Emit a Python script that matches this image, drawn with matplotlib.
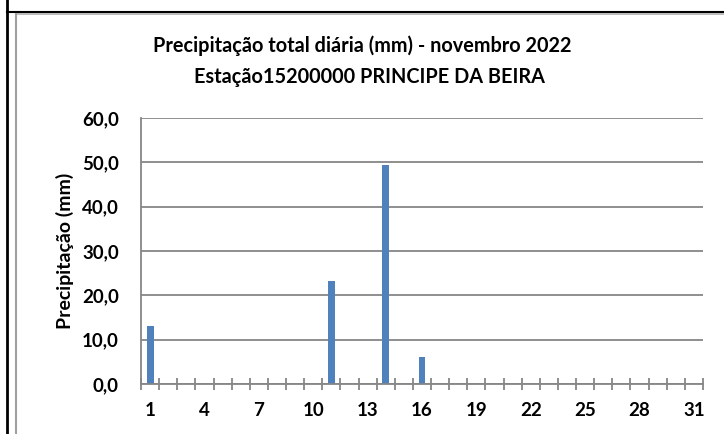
import matplotlib
matplotlib.use('Agg')
import matplotlib.pyplot as plt
import numpy as np
from matplotlib.lines import Line2D

# daily precipitation, november 2022 (mm)
days = list(range(1, 32))
precip = [13.0, 0, 0, 0, 0, 0, 0, 0, 0, 0, 23.2, 0, 0, 49.4, 0, 6.2,
          0, 0, 0, 0, 0, 0, 0, 0, 0, 0, 0, 0, 0, 0, 0]
yticks = [0, 10, 20, 30, 40, 50, 60]
xlabels_shown = [1, 4, 7, 10, 13, 16, 19, 22, 25, 28, 31]

plt.rcParams['font.family'] = ['Lato', 'DejaVu Sans']
plt.rcParams['font.weight'] = 'bold'

W, H = 724, 434
fig = plt.figure(figsize=(W / 100, H / 100), dpi=100)
ax = fig.add_axes([141 / W, 1 - 384 / H, (703 - 141) / W, (384 - 118) / H])

grey = '#868686'
x = np.arange(len(days))
ax.bar(x, precip, width=0.38, color='#4F81BD', zorder=3)

ax.set_xlim(-0.5, len(days) - 0.5)
ax.set_ylim(0, 60)
ax.set_yticks(yticks)
ax.set_yticklabels([f'{v:.1f}'.replace('.', ',') for v in yticks], fontsize=13.5, fontweight='bold')
ax.yaxis.grid(True, color=grey, lw=1.3, zorder=0)
ax.tick_params(axis='y', length=0, pad=16)

# category labels every 3 days, cross ticks at category boundaries
ax.set_xticks([d - 1 for d in xlabels_shown])
ax.set_xticklabels([str(d) for d in xlabels_shown], fontsize=13.5, fontweight='bold')
ax.tick_params(axis='x', which='major', length=0, pad=13)
ax.set_xticks(np.arange(-0.5, len(days) + 0.5, 1), minor=True)
ax.xaxis.set_tick_params(which='minor', direction='inout', length=8, width=1.3, color=grey)

for s in ['top', 'right']:
    ax.spines[s].set_visible(False)
ax.spines['left'].set_color(grey)
ax.spines['left'].set_linewidth(1.3)
ax.spines['bottom'].set_color(grey)
ax.spines['bottom'].set_linewidth(1.3)
ax.spines['bottom'].set_zorder(4)

ax.set_ylabel('Precipitação (mm)', fontsize=14, fontweight='bold', labelpad=6)

fig.text(0.5, 1 - 46 / H,
         'Precipitação total diária (mm) - novembro 2022',
         ha='center', va='center', fontsize=14.3, fontweight='bold')
fig.text(0.51, 1 - 77 / H,
         'Estação15200000 PRINCIPE DA BEIRA',
         ha='center', va='center', fontsize=14.3, fontweight='bold')

# outer frames
fig.add_artist(Line2D([6.5 / W, 6.5 / W], [0, 1], color='black', lw=2))
fig.add_artist(Line2D([6.5 / W, 1], [1 - 12 / H, 1 - 12 / H], color='black', lw=1.5))
fig.add_artist(Line2D([15.5 / W, 1], [1 - 13.5 / H, 1 - 13.5 / H], color='#B0B0B0', lw=1.2))
fig.add_artist(Line2D([15.5 / W, 15.5 / W], [0, 1 - 13.5 / H], color='#A0A0A0', lw=1.5))

fig.savefig('out.png', dpi=100)
